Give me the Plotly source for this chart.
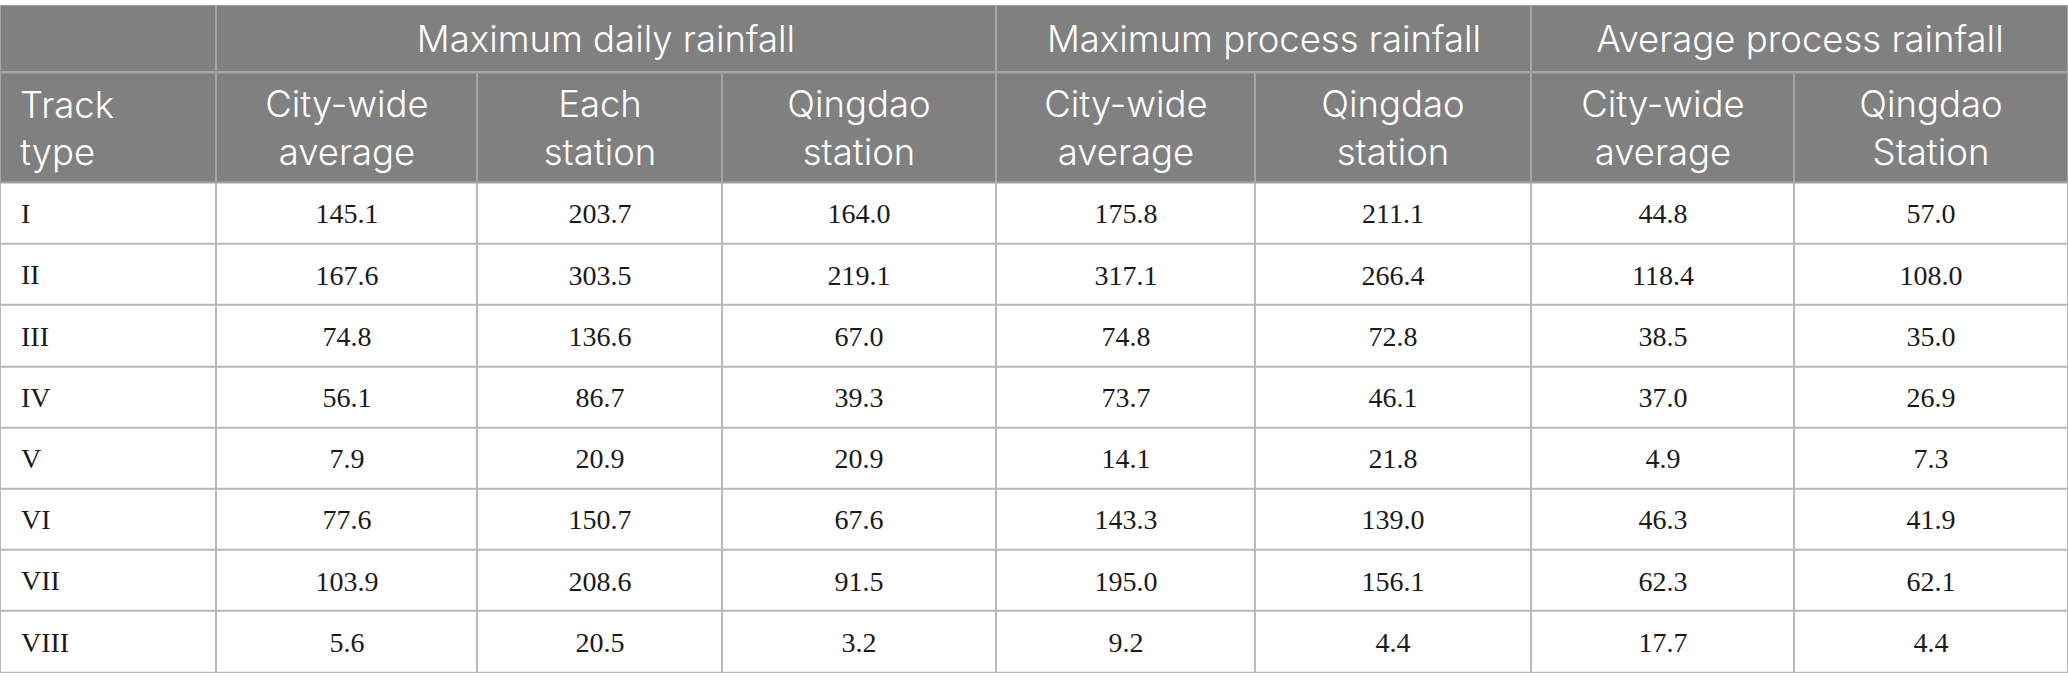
import numpy as np
import plotly.graph_objects as go

# Table values
track_types = ["I", "II", "III", "IV", "V", "VI", "VII", "VIII"]
max_daily_city = ["145.1", "167.6", "74.8", "56.1", "7.9", "77.6", "103.9", "5.6"]
max_daily_each = ["203.7", "303.5", "136.6", "86.7", "20.9", "150.7", "208.6", "20.5"]
max_daily_qingdao = ["164.0", "219.1", "67.0", "39.3", "20.9", "67.6", "91.5", "3.2"]
max_process_city = ["175.8", "317.1", "74.8", "73.7", "14.1", "143.3", "195.0", "9.2"]
max_process_qingdao = ["211.1", "266.4", "72.8", "46.1", "21.8", "139.0", "156.1", "4.4"]
avg_process_city = ["44.8", "118.4", "38.5", "37.0", "4.9", "46.3", "62.3", "17.7"]
avg_process_qingdao = ["57.0", "108.0", "35.0", "26.9", "7.3", "41.9", "62.1", "4.4"]

group_headers = ["", "Maximum daily rainfall", "Maximum process rainfall", "Average process rainfall"]
group_span = [1, 3, 2, 2]  # how many sub columns each group covers
corner_header = "Track<br>type"
sub_headers = ["City-wide<br>average", "Each<br>station", "Qingdao<br>station",
               "City-wide<br>average", "Qingdao<br>station", "City-wide<br>average", "Qingdao<br>Station"]

# layout sizes (pixels)
W, H = 2068, 692
TOP, BOTTOM_PAD = 5, 18
col_widths = [216, 261, 245, 274, 259, 276, 263, 274]
group_row_h, sub_row_h, data_row_h = 67.5, 110.5, 61.3

HEAD_FILL = "#7f807f"
HEAD_LINE = "#a4a5a4"
CELL_LINE = "#b9b9b9"
SANS = "Inter, Lato, sans-serif"
SERIF = "Liberation Serif, Times New Roman, serif"
head_font = dict(family=SANS, size=36.5, color="white", weight=300)

col_edges = np.concatenate([[0], np.cumsum(col_widths)])
group_edges = col_edges[np.concatenate([[0], np.cumsum(group_span)])]
y0 = TOP
y1 = y0 + group_row_h
y2 = y1 + sub_row_h
data_edges = y2 + data_row_h * np.arange(len(track_types) + 1)
data_centers = (data_edges[:-1] + data_edges[1:]) / 2

body = [max_daily_city, max_daily_each, max_daily_qingdao, max_process_city,
        max_process_qingdao, avg_process_city, avg_process_qingdao]
body_text = [[""] + [col[i] for col in body] for i in range(len(track_types))]


def solid(color):
    return [[0, color], [1, color]]


fig = go.Figure()

# header background (shows through as the lighter header grid lines)
fig.add_trace(go.Heatmap(x=[0, W], y=[y0, y2], z=[[1]], colorscale=solid(HEAD_LINE),
                         showscale=False, hoverinfo="skip"))

# merged group header row
fig.add_trace(go.Heatmap(x=group_edges, y=[y0, y1], z=[[1] * len(group_headers)],
                         text=[group_headers], texttemplate="%{text}", textfont=head_font,
                         colorscale=solid(HEAD_FILL), showscale=False, xgap=2, ygap=2,
                         hoverinfo="skip"))

# sub header row
fig.add_trace(go.Heatmap(x=col_edges, y=[y1, y2], z=[[1] * len(col_widths)],
                         text=[[""] + sub_headers], texttemplate="%{text}", textfont=head_font,
                         colorscale=solid(HEAD_FILL), showscale=False, xgap=2, ygap=2,
                         hoverinfo="skip"))

# data rows
fig.add_trace(go.Heatmap(x=col_edges, y=data_edges, z=[[0] * len(col_widths) for _ in track_types],
                         text=body_text, texttemplate="%{text}",
                         textfont=dict(family=SERIF, size=28, color="#1a1a1a"),
                         colorscale=solid("white"), showscale=False, xgap=2, ygap=2,
                         hoverinfo="skip"))

# invisible trace to hold the header axis
fig.add_trace(go.Scatter(x=[None], y=[None], yaxis="y2", showlegend=False, hoverinfo="skip"))

fig.update_layout(
    width=W, height=H,
    margin=dict(l=0, r=0, t=TOP, b=H - data_edges[-1]),
    paper_bgcolor="white", plot_bgcolor=CELL_LINE,
    showlegend=False,
    xaxis=dict(range=[0, W], visible=False, fixedrange=True),
    yaxis=dict(range=[H - BOTTOM_PAD, y0], showgrid=False, zeroline=False, showline=False,
               tickmode="array", tickvals=data_centers, ticktext=track_types,
               ticks="", ticklabelposition="inside", ticklabelstandoff=18,
               tickfont=dict(family=SERIF, size=28, color="#1a1a1a"), fixedrange=True),
    yaxis2=dict(range=[H - BOTTOM_PAD, y0], overlaying="y", side="left", showgrid=False,
                zeroline=False, showline=False, tickmode="array",
                tickvals=[(y1 + y2) / 2 + 1], ticktext=[corner_header],
                ticks="", ticklabelposition="inside", ticklabelstandoff=17,
                tickfont=head_font, fixedrange=True),
)

fig.write_html("out.html", config={"displayModeBar": False},
               post_script="document.body.style.margin='0';")
